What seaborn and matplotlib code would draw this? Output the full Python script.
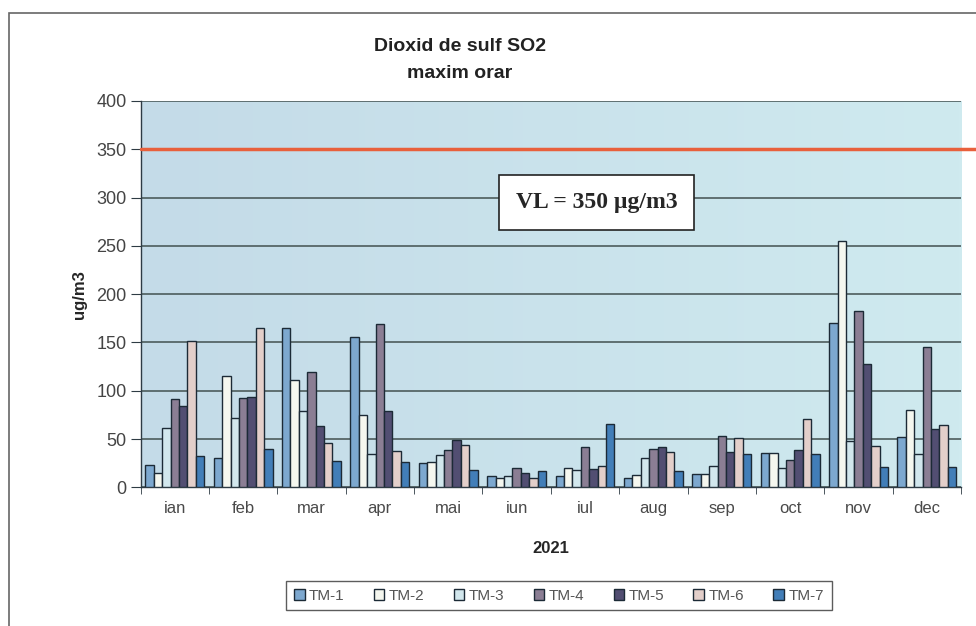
import numpy as np
import pandas as pd
import matplotlib
matplotlib.use('Agg')
import matplotlib.pyplot as plt
import seaborn as sns
from matplotlib.colors import LinearSegmentedColormap
from matplotlib.patches import Rectangle

# Monthly hourly maximum SO2 (ug/m3) per station, 2021
months = ['ian', 'feb', 'mar', 'apr', 'mai', 'iun', 'iul', 'aug', 'sep', 'oct', 'nov', 'dec']
stations = ['TM-1', 'TM-2', 'TM-3', 'TM-4', 'TM-5', 'TM-6', 'TM-7']
tm1 = [23, 30, 165, 156, 25, 12, 12, 10, 14, 36, 170, 52]
tm2 = [15, 115, 111, 75, 26, 10, 20, 13, 14, 36, 255, 80]
tm3 = [61, 72, 79, 35, 33, 12, 18, 30, 22, 20, 48, 35]
tm4 = [91, 92, 119, 169, 39, 20, 42, 40, 53, 28, 183, 145]
tm5 = [84, 94, 63, 79, 49, 15, 19, 42, 37, 39, 128, 60]
tm6 = [151, 165, 46, 38, 44, 10, 22, 37, 51, 71, 43, 65]
tm7 = [32, 40, 27, 26, 18, 17, 66, 17, 35, 35, 21, 21]
limit_value = 350

colors = ['#6fa9dd', '#f6f8ee', '#cde9f2', '#8c7a98', '#4d4878', '#e7cdc6', '#2f7fcb']

rows = []
for name, vals in zip(stations, [tm1, tm2, tm3, tm4, tm5, tm6, tm7]):
    for m, v in zip(months, vals):
        rows.append({'month': m, 'value': v, 'station': name})
df = pd.DataFrame(rows)

sns.set_style('white')
plt.rcParams['font.family'] = ['Liberation Sans', 'DejaVu Sans']

fig = plt.figure(figsize=(9.76, 6.26), dpi=100)
ax = fig.add_axes([0.144, 0.2215, 0.8407, 0.6172])

# plot area background gradient
bg = LinearSegmentedColormap.from_list('bg', ['#c4dbe8', '#cfeaef'])
grad = np.linspace(0, 1, 256).reshape(1, -1)
ax.imshow(grad, extent=[-0.5, 11.5, 0, 400], aspect='auto', cmap=bg, zorder=0)

sns.barplot(data=df, x='month', y='value', hue='station', palette=colors,
            width=0.86, gap=0, edgecolor='#1c2a36', linewidth=1.0, ax=ax, zorder=3)

ax.set_xlim(-0.5, 11.5)
ax.set_ylim(0, 400)
ax.set_yticks(range(0, 401, 50))
ax.yaxis.grid(True, color='#4d5c5c', lw=1.2, zorder=1)
ax.set_axisbelow(True)
for s in ['top', 'right']:
    ax.spines[s].set_visible(False)
for s in ['left', 'bottom']:
    ax.spines[s].set_color('#2e3b44')
    ax.spines[s].set_linewidth(1.0)

# tick marks between categories (Excel style)
ax.set_xticks(np.arange(-0.5, 12, 1), minor=True)
ax.tick_params(axis='x', which='minor', length=5, color='#2e3b44', bottom=True)
ax.tick_params(axis='x', which='major', length=0, labelsize=12, labelcolor='#4a4a4a', pad=10)
ax.tick_params(axis='y', length=7, color='#2e3b44', left=True, labelsize=13,
               labelcolor='#444444', pad=3)

ax.axhline(limit_value, xmin=0, xmax=1.018, color='#e8603c', lw=2.5, zorder=4, clip_on=False)
ax.text(6.17, 295, 'VL = 350 µg/m3', family=['Liberation Serif', 'DejaVu Serif'],
        fontsize=17, fontweight='bold', ha='center', va='center', zorder=5,
        bbox=dict(boxstyle='square,pad=0.72', fc='white', ec='#222222', lw=1.2))

ax.set_xlabel('2021', fontsize=12, fontweight='bold', labelpad=18)
ax.set_ylabel('ug/m3', fontsize=12, fontweight='bold', labelpad=7)
fig.text(0.471, 0.904, 'Dioxid de sulf SO2\nmaxim orar', ha='center', va='center',
         fontsize=14, fontweight='bold', color='#222222', linespacing=1.75)

leg = ax.legend(loc='center', bbox_to_anchor=(0.51, -0.28), ncol=7, frameon=True,
                fontsize=11, handlelength=0.7, handleheight=0.7, handletextpad=0.3,
                columnspacing=1.9, borderpad=0.5, fancybox=False)
leg.get_frame().set_edgecolor('#333333')
leg.get_frame().set_linewidth(1.0)
for t in leg.get_texts():
    t.set_color('#555555')

# outer chart frame
fig.patches.append(Rectangle((0.009, -0.01), 1.02, 0.99, transform=fig.transFigure,
                             fill=False, ec='#666666', lw=1.2))

fig.savefig('out.png', dpi=100)
